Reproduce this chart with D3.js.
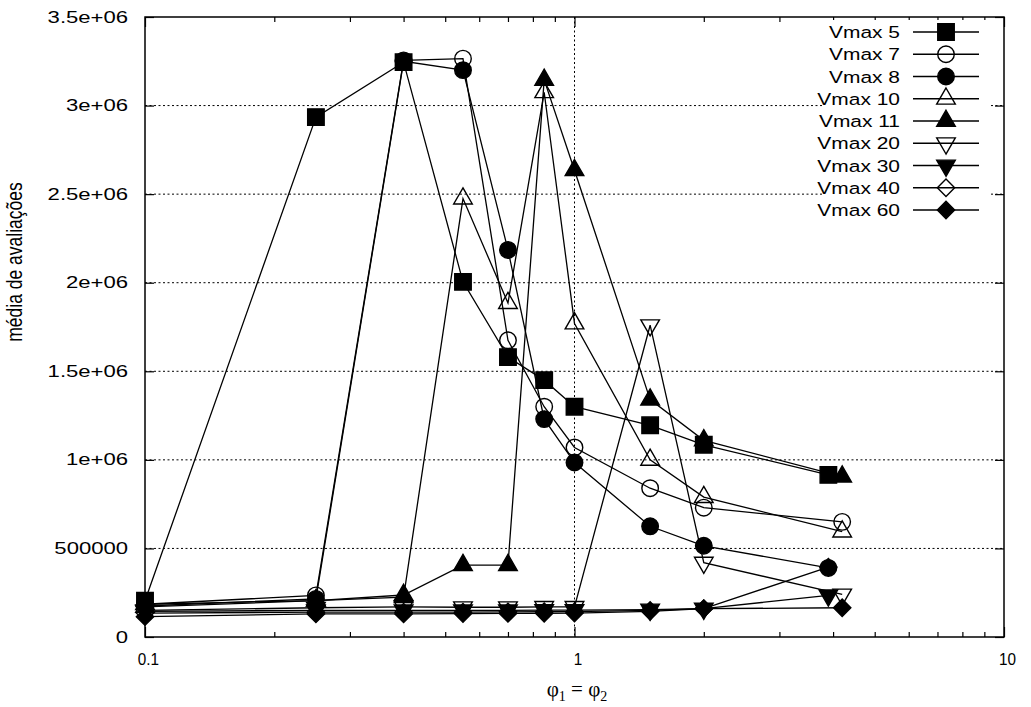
<!DOCTYPE html>
<html lang="pt">
<head>
<meta charset="UTF-8">
<title>média de avaliações</title>
<script src="https://d3js.org/d3.v7.min.js"></script>
<style>
  body { margin: 0; background: #fff; }
  svg text { font-family: "Liberation Sans", Arial, Helvetica, sans-serif; fill: #000; }
</style>
</head>
<body>
<svg width="1031" height="707"></svg>
<script>
// phi values (x) shared by all series; the last point of each series sits near 4
const phiValues = [0.1, 0.25, 0.4, 0.55, 0.7, 0.85, 1, 1.5, 2];
const lastPhi = [3.9, 4.2, 3.9, 4.2, 4.2, 4.2, 3.9, 3.9, 4.2];

const seriesNames = ["Vmax 5", "Vmax 7", "Vmax 8", "Vmax 10", "Vmax 11", "Vmax 20", "Vmax 30", "Vmax 40", "Vmax 60"];

const vmax5  = [205000, 2935000, 3245000, 2005000, 1580000, 1450000, 1300000, 1195000, 1085000, 915000];
const vmax7  = [185000, 235000, 3255000, 3265000, 1675000, 1300000, 1070000, 840000, 730000, 650000];
const vmax8  = [175000, 215000, 3250000, 3200000, 2185000, 1230000, 985000, 625000, 515000, 390000];
const vmax10 = [170000, 205000, 225000, 2475000, 1885000, 3075000, 1770000, 1000000, 790000, 595000];
const vmax11 = [185000, 205000, 237000, 406000, 406000, 3145000, 2635000, 1340000, 1110000, 905000];
const vmax20 = [150000, 165000, 170000, 168000, 168000, 170000, 170000, 1760000, 420000, 240000];
const vmax30 = [145000, 150000, 150000, 150000, 150000, 152000, 152000, 155000, 160000, 235000];
const vmax40 = [135000, 140000, 140000, 140000, 142000, 143000, 143000, 150000, 160000, 395000];
const vmax60 = [115000, 130000, 130000, 132000, 133000, 134000, 135000, 145000, 160000, 165000];

const yTicks = [0, 500000, 1000000, 1500000, 2000000, 2500000, 3000000, 3500000];
const yTickLabels = ["0", "500000", "1e+06", "1.5e+06", "2e+06", "2.5e+06", "3e+06", "3.5e+06"];
const xTicks = [0.1, 1, 10];
const xTickLabels = ["0.1", "1", "10"];
const xMinorTicks = [0.2, 0.3, 0.4, 0.5, 0.6, 0.7, 0.8, 0.9, 2, 3, 4, 5, 6, 7, 8, 9];

const allValues = [vmax5, vmax7, vmax8, vmax10, vmax11, vmax20, vmax30, vmax40, vmax60];

// marker style per series
const markerShape = ["square", "circle", "circle", "triangle", "triangle", "down", "down", "diamond", "diamond"];
const markerFilled = [true, false, true, false, true, false, true, false, true];

const plotLeft = 145, plotRight = 1004, plotTop = 17, plotBottom = 637;

const svg = d3.select("svg");

const x = d3.scaleLog().domain([0.1, 10]).range([plotLeft, plotRight]);
const y = d3.scaleLinear().domain([0, 3500000]).range([plotBottom, plotTop]);

const series = seriesNames.map((name, i) => ({
    name: name,
    shape: markerShape[i],
    filled: markerFilled[i],
    points: allValues[i].map((v, j) => ({ phi: j < phiValues.length ? phiValues[j] : lastPhi[i], v: v }))
}));

// grid
const grid = svg.append("g")
    .attr("stroke", "#000")
    .attr("stroke-width", 1)
    .attr("stroke-dasharray", "2,2.5");
grid.selectAll(".gy")
    .data(yTicks.slice(1, -1))
    .enter().append("line")
    .attr("x1", plotLeft).attr("x2", plotRight)
    .attr("y1", d => y(d)).attr("y2", d => y(d));
grid.append("line")
    .attr("x1", x(1)).attr("x2", x(1))
    .attr("y1", plotTop).attr("y2", plotBottom);

// axes with inward ticks (mirrored on all four sides)
function stretchLabels(g, sx, dx, anchor) {
    g.selectAll(".tick text")
        .attr("x", null)
        .attr("text-anchor", anchor)
        .attr("transform", `translate(${dx},0) scale(${sx},1)`);
}

const yAxis = svg.append("g")
    .attr("transform", `translate(${plotLeft},0)`)
    .call(d3.axisLeft(y).tickValues(yTicks).tickSizeInner(-9).tickSizeOuter(0)
        .tickFormat((d, i) => yTickLabels[i]));
yAxis.select(".domain").remove();
yAxis.selectAll("text").style("font-size", "16px");
stretchLabels(yAxis, 1.38, -17, "end");

const yAxisR = svg.append("g")
    .attr("transform", `translate(${plotRight},0)`)
    .call(d3.axisRight(y).tickValues(yTicks).tickSizeInner(-9).tickSizeOuter(0).tickFormat(""));
yAxisR.select(".domain").remove();

const xAxis = svg.append("g")
    .attr("transform", `translate(0,${plotBottom})`)
    .call(d3.axisBottom(x).tickValues(xTicks).tickSizeInner(-10).tickSizeOuter(0).tickPadding(16)
        .tickFormat((d, i) => xTickLabels[i]));
xAxis.select(".domain").remove();
xAxis.selectAll("text").style("font-size", "17px");
stretchLabels(xAxis, 0.9, 3, "middle");

const xMinor = svg.append("g")
    .attr("transform", `translate(0,${plotBottom})`)
    .call(d3.axisBottom(x).tickValues(xMinorTicks).tickSizeInner(-5).tickSizeOuter(0).tickFormat(""));
xMinor.select(".domain").remove();

const xAxisT = svg.append("g")
    .attr("transform", `translate(0,${plotTop})`)
    .call(d3.axisTop(x).tickValues(xTicks).tickSizeInner(-10).tickSizeOuter(0).tickFormat(""));
xAxisT.select(".domain").remove();
const xMinorT = svg.append("g")
    .attr("transform", `translate(0,${plotTop})`)
    .call(d3.axisTop(x).tickValues(xMinorTicks).tickSizeInner(-5).tickSizeOuter(0).tickFormat(""));
xMinorT.select(".domain").remove();

svg.selectAll(".tick line").attr("stroke", "#000").attr("stroke-width", 1.2);

// axis titles
svg.append("text")
    .attr("transform", "translate(22,262) rotate(-90) scale(1,1.3)")
    .attr("text-anchor", "middle")
    .style("font-size", "17.5px")
    .text("média de avaliações");

const xTitle = svg.append("text")
    .attr("x", 577).attr("y", 696)
    .attr("text-anchor", "middle")
    .style("font-family", "'Liberation Serif', 'Times New Roman', serif")
    .style("font-size", "21px");
xTitle.append("tspan").text("φ");
xTitle.append("tspan").attr("dy", 5).style("font-size", "14px").text("1");
xTitle.append("tspan").attr("dy", -5).text(" = φ");
xTitle.append("tspan").attr("dy", 5).style("font-size", "14px").text("2");

// markers
function symbolFor(shape) {
    if (shape === "square") return d3.symbol(d3.symbolSquare, 272)();
    if (shape === "circle") return d3.symbol(d3.symbolCircle, 215)();
    if (shape === "diamond") return d3.symbol(d3.symbolSquare, 150)();
    return d3.symbol(d3.symbolTriangle, 150)();
}
function rotFor(shape) {
    if (shape === "diamond") return 45;
    if (shape === "down") return 180;
    return 0;
}
function drawMarker(g, shape, filled, px, py) {
    g.append("path")
        .attr("d", symbolFor(shape))
        .attr("transform", `translate(${px},${py}) rotate(${rotFor(shape)})`)
        .attr("fill", filled ? "#000" : "none")
        .attr("stroke", "#000")
        .attr("stroke-width", 1.4);
}

// legend
const legendRowY = d3.scalePoint().domain(seriesNames).range([32, 210]);
svg.append("rect")
    .attr("x", 822).attr("y", 20)
    .attr("width", 168).attr("height", 202)
    .attr("fill", "#fff");
const legend = svg.append("g");
series.forEach(s => {
    const ly = legendRowY(s.name);
    legend.append("text")
        .attr("text-anchor", "end")
        .attr("transform", `translate(900,${ly + 6}) scale(1.27,1)`)
        .style("font-size", "16.5px")
        .text(s.name);
    legend.append("line")
        .attr("x1", 913).attr("x2", 979)
        .attr("y1", ly).attr("y2", ly)
        .attr("stroke", "#000").attr("stroke-width", 1.3);
    drawMarker(legend, s.shape, s.filled, 946, ly);
});

// data
const line = d3.line().x(d => x(d.phi)).y(d => y(d.v));
series.forEach(s => {
    const g = svg.append("g");
    g.append("path")
        .datum(s.points)
        .attr("d", line)
        .attr("fill", "none")
        .attr("stroke", "#000")
        .attr("stroke-width", 1.3);
    s.points.forEach(p => drawMarker(g, s.shape, s.filled, x(p.phi), y(p.v)));
});

// border
svg.append("rect")
    .attr("x", plotLeft).attr("y", plotTop)
    .attr("width", plotRight - plotLeft).attr("height", plotBottom - plotTop)
    .attr("fill", "none")
    .attr("stroke", "#000")
    .attr("stroke-width", 1.5);
</script>
</body>
</html>
